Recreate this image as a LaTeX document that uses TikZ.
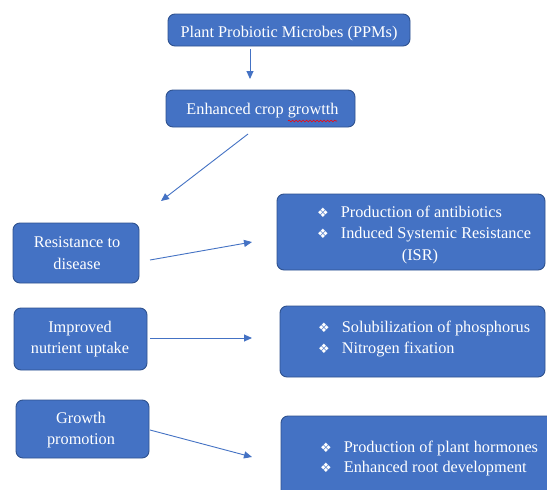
\documentclass[tikz,border=0pt]{standalone}
\usepackage{fontspec}
\setmainfont{Liberation Serif}
\newfontfamily\symfont{DejaVu Sans}
\usetikzlibrary{arrows.meta,decorations.pathmorphing}
\definecolor{boxfill}{HTML}{4472C4}
\definecolor{boxline}{HTML}{2F528F}
\definecolor{arrowcol}{HTML}{4472C4}
\newcommand{\bul}{{\symfont\fontsize{13}{13}\selectfont ❖}\hspace{12pt}}
\tikzset{
  box/.style={draw=boxline, fill=boxfill, rounded corners=7pt, line width=0.9pt, inner sep=0pt},
  txt/.style={text=white, font=\fontsize{16.3}{19}\selectfont, inner sep=0pt},
  conn/.style={draw=arrowcol, line width=0.9pt, -{Triangle[length=8pt,width=7pt]}},
}
\begin{document}
\begin{tikzpicture}[x=1pt,y=-1pt]
\useasboundingbox (0,0) rectangle (547,490);
\clip (0,0) rectangle (547,490);
\fill[white] (0,0) rectangle (547,490);
% boxes
\node[box, minimum width=242pt, minimum height=32pt] (ppm) at (289,30) {};
\node[box, minimum width=189pt, minimum height=37pt] (enh) at (260.5,108.5) {};
\node[box, minimum width=126pt, minimum height=60pt] (res) at (76,253) {};
\node[box, minimum width=133pt, minimum height=62pt] (imp) at (80.5,339) {};
\node[box, minimum width=133pt, minimum height=58pt] (gro) at (82.5,429) {};
\node[box, minimum width=268pt, minimum height=76pt] (isr) at (411,232) {};
\node[box, minimum width=265pt, minimum height=71pt] (pho) at (412.5,341.5) {};
\node[box, minimum width=280pt, minimum height=84pt] (hor) at (421,458) {};
% texts
\node[txt, anchor=base] (tppm) at (289,37) {Plant Probiotic Microbes (PPMs)};
\node[txt, anchor=base] (tenh) at (262.5,114) {Enhanced crop growtth};
\draw[red, line width=0.6pt, decorate, decoration={snake, amplitude=0.9pt, segment length=3.5pt}] (288,121) -- (337,121);
\node[txt, anchor=base] (tres1) at (77,247) {Resistance to};
\node[txt, anchor=base] (tres2) at (77,269) {disease};
\node[txt, anchor=base] (timp1) at (80,332) {Improved};
\node[txt, anchor=base] (timp2) at (80,353) {nutrient uptake};
\node[txt, anchor=base] (tgro1) at (81,423) {Growth};
\node[txt, anchor=base] (tgro2) at (81,444) {promotion};
\node[txt, anchor=base west] (tisr1) at (317,217) {\bul Production of antibiotics};
\node[txt, anchor=base west] (tisr2) at (317,238) {\bul Induced Systemic Resistance};
\node[txt, anchor=base] (tisr3) at (420,260) {(ISR)};
\node[txt, anchor=base west] (tpho1) at (318,332) {\bul Solubilization of phosphorus};
\node[txt, anchor=base west] (tpho2) at (318,353) {\bul Nitrogen fixation};
\node[txt, anchor=base west] (thor1) at (320,452) {\bul Production of plant hormones};
\node[txt, anchor=base west] (thor2) at (320,472) {\bul Enhanced root development};
% connector ends
\coordinate (a1s) at (250,49); \coordinate (a1e) at (250,79);
\coordinate (a2s) at (248,134); \coordinate (a2e) at (161,201);
\coordinate (a3s) at (150,260); \coordinate (a3e) at (252,242);
\coordinate (a4s) at (150,338); \coordinate (a4e) at (252,338);
\coordinate (a5s) at (150,430); \coordinate (a5e) at (252,457);
\draw[conn] (a1s) -- (a1e);
\draw[conn] (a2s) -- (a2e);
\draw[conn] (a3s) -- (a3e);
\draw[conn] (a4s) -- (a4e);
\draw[conn] (a5s) -- (a5e);
\end{tikzpicture}
\end{document}
